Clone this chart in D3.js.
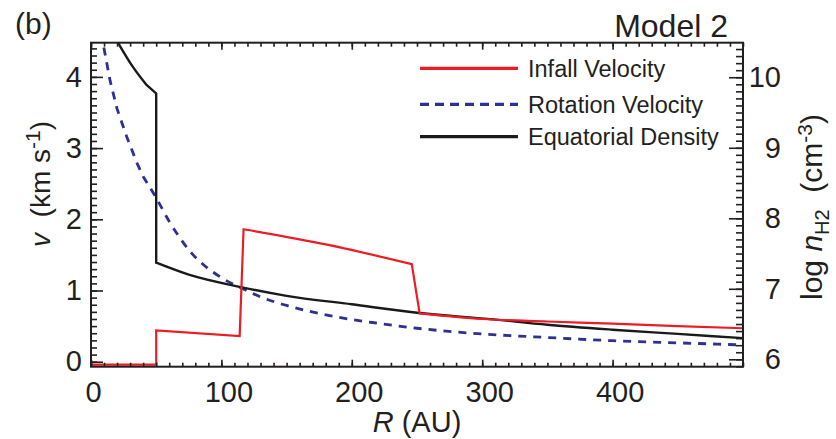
<!DOCTYPE html>
<html><head><meta charset="utf-8">
<script src="https://cdn.jsdelivr.net/npm/d3@7"></script>
<style>
html,body{margin:0;padding:0;background:#fff;}
text{font-family:"Liberation Sans",Arial,Helvetica,sans-serif;fill:#231f20;}
</style></head>
<body><svg id="c" width="836" height="439"></svg>
<script>
// ---- data ----
const xTicks = [0, 100, 200, 300, 400];
const yLeftTicks = [0, 1, 2, 3, 4];
const yRightTicks = [6, 7, 8, 9, 10];
const infallR = [0, 50, 50, 114, 117, 182, 246, 252, 300, 350, 400, 450, 500];
const infallV = [-0.04, -0.04, 0.44, 0.36, 1.86, 1.64, 1.37, 0.68, 0.60, 0.565, 0.535, 0.50, 0.47];
const rotR = [8, 10, 14.6, 20, 27.4, 35, 40, 50, 60, 76, 100, 116, 130, 150, 185, 220, 250, 300, 350, 400, 450, 500];
const rotV = [4.62, 4.40, 3.95, 3.55, 3.16, 2.8, 2.6, 2.3, 1.97, 1.55, 1.18, 1.03, 0.91, 0.79, 0.64, 0.54, 0.47, 0.39, 0.34, 0.295, 0.265, 0.235];
const densR = [18, 22, 32, 42.6, 50, 50, 75, 116, 150, 200, 250, 306, 350, 400, 450, 500];
const densN = [10.6, 10.45, 10.15, 9.89, 9.77, 7.37, 7.20, 7.02, 6.90, 6.78, 6.66, 6.57, 6.49, 6.42, 6.36, 6.30];
const legendLabels = ["Infall Velocity", "Rotation Velocity", "Equatorial Density"];

// ---- layout ----
const L = 91, R = 743, T = 42.7, B = 366.7;
const svg = d3.select("#c");
const x = d3.scaleLinear().domain([0, 500]).range([L, R]);
const yL = d3.scaleLinear().domain([-0.07, 4.48]).range([B, T]);
const yR = d3.scaleLinear().domain([5.895, 10.49]).range([B, T]);
const ink = "#231f20";
const red = "#ec1c24", blue = "#2e3192", black = "#1a1a1a";

svg.append("defs").append("clipPath").attr("id", "clip")
  .append("rect").attr("x", L).attr("y", T).attr("width", R - L).attr("height", B - T);

// smooth runs joined by straight jumps (where R barely changes)
function pathWithJumps(rs, vs, y) {
  const pts = rs.map((r, i) => [x(r), y(vs[i])]);
  const runs = [[pts[0]]];
  for (let i = 1; i < pts.length; i++) {
    if (rs[i] - rs[i - 1] < 8) runs.push([pts[i]]);
    else runs[runs.length - 1].push(pts[i]);
  }
  const ln = d3.line().curve(d3.curveMonotoneX);
  return runs.map((run, k) => {
    const d = run.length > 1 ? ln(run) : `M${run[0][0]},${run[0][1]}`;
    return k === 0 ? d : "L" + d.slice(1);
  }).join("");
}

// ---- curves ----
const g = svg.append("g").attr("clip-path", "url(#clip)");
g.append("path").attr("d", pathWithJumps(rotR, rotV, yL)).attr("fill", "none")
  .attr("stroke", blue).attr("stroke-width", 2.8).attr("stroke-dasharray", "8,7");
g.append("path").attr("d", pathWithJumps(densR, densN, yR)).attr("fill", "none")
  .attr("stroke", black).attr("stroke-width", 2.4);
g.append("path").attr("d", pathWithJumps(infallR, infallV, yL)).attr("fill", "none")
  .attr("stroke", red).attr("stroke-width", 2.2);

// ---- axes ----
function styleAxis(sel) {
  sel.select(".domain").remove();
  sel.selectAll("line").attr("stroke", ink).attr("stroke-width", 1.6);
  sel.selectAll("text").style("font-size", "29px").attr("fill", ink);
}
const xMinor = d3.range(0, 501, 10);
const yLMinor = d3.range(0, 4.5, 0.1).map(v => +v.toFixed(1));
const yRMinor = d3.range(5.9, 10.5, 0.1).map(v => +v.toFixed(1));

// bottom
svg.append("g").attr("transform", `translate(0,${B})`)
  .call(d3.axisBottom(x).tickValues(xMinor).tickSize(-4).tickFormat("")).call(styleAxis);
const bx = svg.append("g").attr("transform", `translate(0,${B})`)
  .call(d3.axisBottom(x).tickValues(xTicks).tickSize(-7).tickPadding(0)).call(styleAxis);
bx.selectAll("text").attr("y", 35).attr("dy", 0).attr("dx", d => d === 0 ? 2 : 7);
// top
svg.append("g").attr("transform", `translate(0,${T})`)
  .call(d3.axisTop(x).tickValues(xMinor).tickSize(-4).tickFormat("")).call(styleAxis);
svg.append("g").attr("transform", `translate(0,${T})`)
  .call(d3.axisTop(x).tickValues(xTicks).tickSize(-7).tickFormat("")).call(styleAxis);
// left
svg.append("g").attr("transform", `translate(${L},0)`)
  .call(d3.axisLeft(yL).tickValues(yLMinor).tickSize(-6).tickFormat("")).call(styleAxis);
svg.append("g").attr("transform", `translate(${L},0)`)
  .call(d3.axisLeft(yL).tickValues(yLeftTicks).tickSize(-12).tickPadding(9).tickFormat(d3.format("d"))).call(styleAxis);
// right
svg.append("g").attr("transform", `translate(${R},0)`)
  .call(d3.axisRight(yR).tickValues(yRMinor).tickSize(-7).tickFormat("")).call(styleAxis);
const ry = svg.append("g").attr("transform", `translate(${R},0)`)
  .call(d3.axisRight(yR).tickValues(yRightTicks).tickSize(-14).tickFormat(d3.format("d"))).call(styleAxis);
ry.selectAll("text").attr("x", 38).attr("text-anchor", "end");

// frame
svg.append("rect").attr("x", L).attr("y", T).attr("width", R - L).attr("height", B - T)
  .attr("fill", "none").attr("stroke", ink).attr("stroke-width", 2);

// ---- titles ----
svg.append("text").attr("x", 15).attr("y", 34).style("font-size", "30px").text("(b)");
svg.append("text").attr("x", 728).attr("y", 37).attr("text-anchor", "end").style("font-size", "32px").text("Model 2");

const xt = svg.append("text").attr("x", 417).attr("y", 432).attr("text-anchor", "middle").style("font-size", "29px");
xt.append("tspan").attr("font-style", "italic").text("R");
xt.append("tspan").text("\u00A0(AU)");

const lt = svg.append("text").attr("transform", "translate(50,184) rotate(-90)").attr("text-anchor", "middle").style("font-size", "28px");
lt.append("tspan").attr("font-style", "italic").text("v");
lt.append("tspan").text("\u00A0\u00A0(km s");
lt.append("tspan").attr("dy", -10).style("font-size", "21px").text("-1");
lt.append("tspan").attr("dy", 10).text(")");

const rt = svg.append("text").attr("transform", "translate(822,207) rotate(-90)").attr("text-anchor", "middle").style("font-size", "30px");
rt.append("tspan").text("log\u00A0");
rt.append("tspan").attr("font-style", "italic").text("n");
rt.append("tspan").attr("dy", 7).style("font-size", "20px").text("H2");
rt.append("tspan").attr("dy", -7).text("\u00A0\u00A0(cm");
rt.append("tspan").attr("dy", -10).style("font-size", "21px").text("-3");
rt.append("tspan").attr("dy", 10).text(")");

// ---- legend ----
const legColors = [red, blue, black];
const legY = [68.3, 104.3, 136.7];
const leg = svg.append("g");
legendLabels.forEach((lab, i) => {
  leg.append("line").attr("x1", 420).attr("x2", 518).attr("y1", legY[i]).attr("y2", legY[i])
    .attr("stroke", legColors[i]).attr("stroke-width", 3.2)
    .attr("stroke-dasharray", i === 1 ? "9,6" : null);
  leg.append("text").attr("x", 528).attr("y", legY[i] + 8.5).style("font-size", "23.5px").text(lab);
});
</script></body></html>
